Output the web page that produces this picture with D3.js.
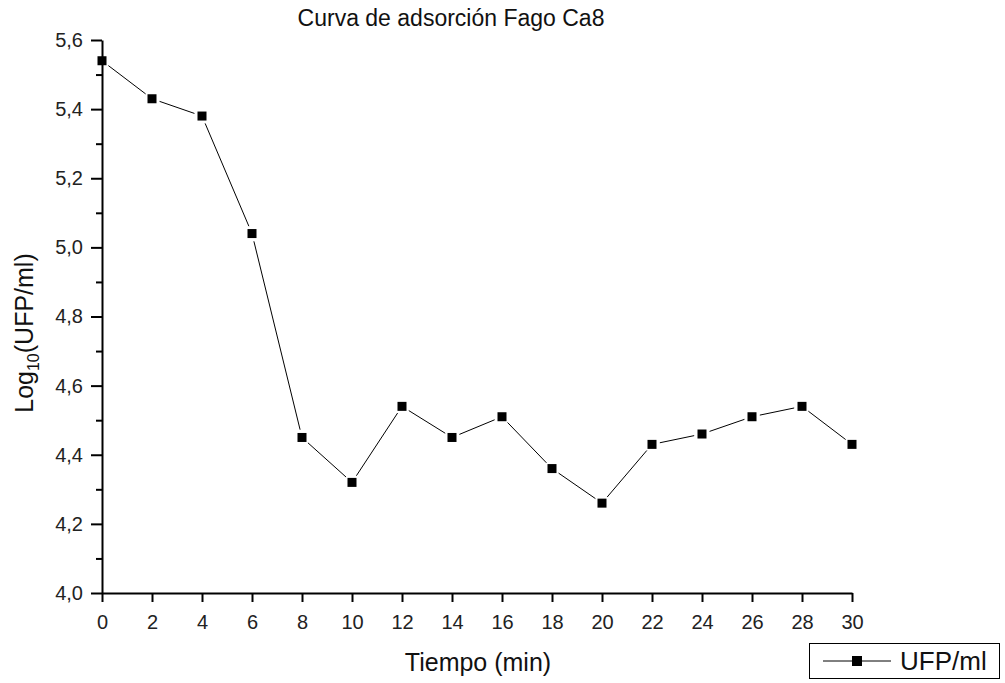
<!DOCTYPE html>
<html><head><meta charset="utf-8">
<script src="https://cdn.jsdelivr.net/npm/d3@7"></script>
<style>body{margin:0;background:#fff}svg{font-family:"Liberation Sans",Arial,sans-serif}</style>
</head><body><svg id="c" width="1005" height="683"></svg>
<script>
const tiempo = [0,2,4,6,8,10,12,14,16,18,20,22,24,26,28,30];
const ufp = [5.54,5.43,5.38,5.04,4.45,4.32,4.54,4.45,4.51,4.36,4.26,4.43,4.46,4.51,4.54,4.43];
const xTicks = [0,2,4,6,8,10,12,14,16,18,20,22,24,26,28,30];
const yTicks = [4.0,4.2,4.4,4.6,4.8,5.0,5.2,5.4,5.6];
const yMinor = [4.1,4.3,4.5,4.7,4.9,5.1,5.3,5.5];

const svg = d3.select("#c");
const x = d3.scaleLinear().domain([0,30]).range([102,852]);
const y = d3.scaleLinear().domain([4.0,5.6]).range([593,40]);
const fmt = d => d3.format(".1f")(d).replace(".", ",");

svg.append("g").attr("transform","translate(102,0)")
  .call(d3.axisLeft(y).tickValues(yTicks).tickFormat(fmt).tickSize(11).tickPadding(8).tickSizeOuter(0));
svg.append("g").attr("transform","translate(102,0)")
  .call(d3.axisLeft(y).tickValues(yMinor).tickFormat("").tickSize(6).tickSizeOuter(0))
  .select(".domain").remove();
svg.append("g").attr("transform","translate(0,593)")
  .call(d3.axisBottom(x).tickValues(xTicks).tickSize(9).tickPadding(13).tickSizeOuter(0));
svg.selectAll(".domain,.tick line").attr("stroke","#000").attr("stroke-width",2);
svg.selectAll(".tick text").style("font-size","20px").attr("fill","#222")
  .style("font-family","Liberation Sans, Arial, sans-serif");

const gap = 8;
for (let i=0;i<tiempo.length-1;i++){
  const x1=x(tiempo[i]), y1=y(ufp[i]), x2=x(tiempo[i+1]), y2=y(ufp[i+1]);
  const L=Math.hypot(x2-x1,y2-y1), ux=(x2-x1)/L, uy=(y2-y1)/L;
  svg.append("line").attr("x1",x1+ux*gap).attr("y1",y1+uy*gap)
    .attr("x2",x2-ux*gap).attr("y2",y2-uy*gap)
    .attr("stroke","#000").attr("stroke-width",1);
}
svg.append("g").selectAll("rect").data(tiempo).join("rect")
  .attr("x",(d)=>x(d)-4.5).attr("y",(d,i)=>y(ufp[i])-4.5)
  .attr("width",9).attr("height",9).attr("fill","#000");

svg.append("text").attr("x",451).attr("y",26).attr("text-anchor","middle")
  .attr("font-size",23).attr("fill","#111").text("Curva de adsorción Fago Ca8");
svg.append("text").attr("x",478).attr("y",671).attr("text-anchor","middle")
  .attr("font-size",25).attr("fill","#111").text("Tiempo (min)");
const yl = svg.append("text").attr("transform","translate(33,333) rotate(-90)")
  .attr("text-anchor","middle").attr("font-size",25).attr("fill","#111");
yl.append("tspan").text("Log");
yl.append("tspan").attr("font-size",16).attr("dy",6).text("10");
yl.append("tspan").attr("dy",-6).text("(UFP/ml)");

const lg = svg.append("g");
lg.append("rect").attr("x",809.5).attr("y",643.5).attr("width",190).attr("height",35)
  .attr("fill","#fff").attr("stroke","#000").attr("stroke-width",1);
lg.append("line").attr("x1",823).attr("x2",891).attr("y1",661).attr("y2",661).attr("stroke","#000");
lg.append("rect").attr("x",852).attr("y",656).attr("width",10).attr("height",10).attr("fill","#000");
lg.append("text").attr("x",900).attr("y",670).attr("font-size",26).attr("fill","#111").text("UFP/ml");
</script></body></html>
